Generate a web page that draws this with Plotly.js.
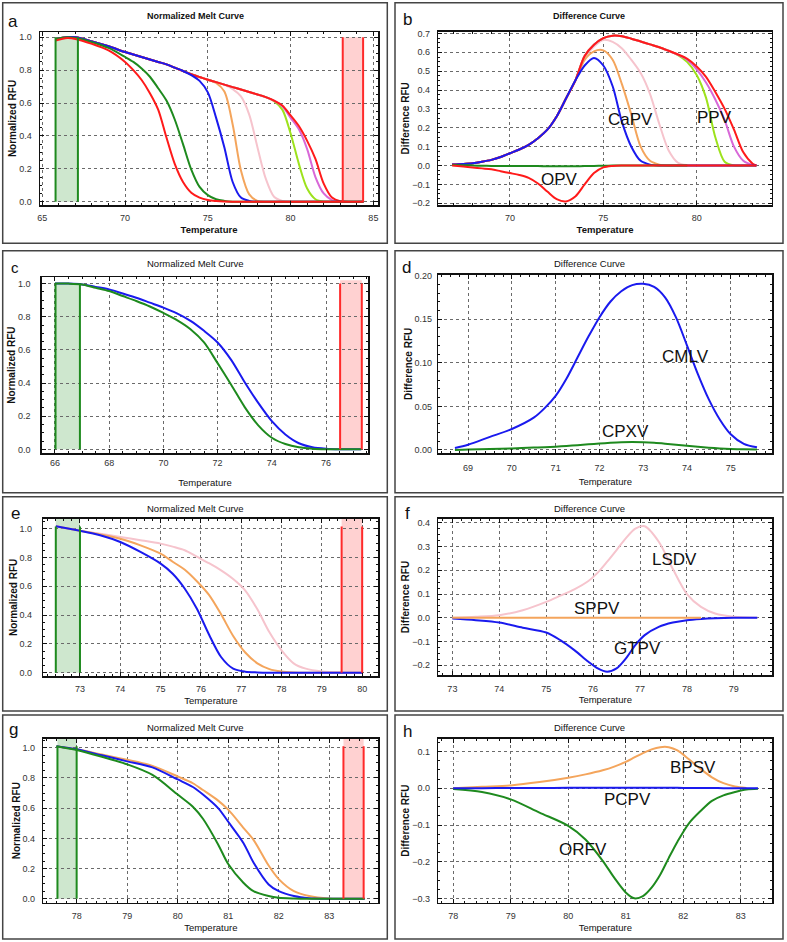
<!DOCTYPE html>
<html>
<head>
<meta charset="utf-8">
<script src="https://cdn.plot.ly/plotly-3.0.1.min.js"></script>
<style>
  html, body { margin: 0; padding: 0; background: #fff; }
  #chart { width: 787px; height: 942px; }
</style>
</head>
<body>
<div id="chart"></div>
<script>
// ---- panel a : normalized melt curve (OPV / CaPV / PPV panel) ----
const aTemp = [65.8, 66.5, 67, 68, 69, 70, 70.5, 71, 71.5, 72, 72.5, 73, 73.5, 74, 74.5, 75, 75.5, 76, 76.5, 77, 77.5, 78, 78.5, 79, 79.5, 80, 80.5, 81, 81.5, 82, 82.5, 83, 84.4];
const aOPV = [0.98, 0.995, 0.99, 0.96, 0.92, 0.85, 0.80, 0.74, 0.66, 0.56, 0.39, 0.23, 0.12, 0.055, 0.025, 0.01, 0.004, 0.001, 0, 0, 0, 0, 0, 0, 0, 0, 0, 0, 0, 0, 0, 0, 0];
const aGreen = [0.99, 1.0, 0.995, 0.97, 0.935, 0.88, 0.85, 0.81, 0.76, 0.69, 0.615, 0.5, 0.35, 0.195, 0.09, 0.04, 0.015, 0.005, 0, 0, 0, 0, 0, 0, 0, 0, 0, 0, 0, 0, 0, 0, 0];
const aBlue = [0.99, 1.0, 1.0, 0.975, 0.945, 0.91, 0.895, 0.88, 0.865, 0.85, 0.835, 0.815, 0.795, 0.77, 0.735, 0.665, 0.51, 0.33, 0.12, 0.025, 0.005, 0, 0, 0, 0, 0, 0, 0, 0, 0, 0, 0, 0];
const aOrange = [0.99, 1.0, 1.0, 0.975, 0.945, 0.91, 0.895, 0.88, 0.865, 0.85, 0.835, 0.815, 0.795, 0.775, 0.758, 0.742, 0.722, 0.67, 0.47, 0.19, 0.045, 0.005, 0, 0, 0, 0, 0, 0, 0, 0, 0, 0, 0];
const aPink = [0.99, 1.0, 1.0, 0.975, 0.945, 0.91, 0.895, 0.88, 0.865, 0.85, 0.835, 0.815, 0.795, 0.775, 0.758, 0.742, 0.727, 0.71, 0.685, 0.64, 0.53, 0.33, 0.14, 0.03, 0.005, 0, 0, 0, 0, 0, 0, 0, 0];
const aLime = [0.99, 1.0, 1.0, 0.975, 0.945, 0.91, 0.895, 0.88, 0.865, 0.85, 0.835, 0.815, 0.795, 0.775, 0.758, 0.742, 0.727, 0.712, 0.697, 0.682, 0.667, 0.652, 0.636, 0.612, 0.56, 0.415, 0.23, 0.08, 0.015, 0, 0, 0, 0];
const aViolet = [0.99, 1.0, 1.0, 0.975, 0.945, 0.91, 0.895, 0.88, 0.865, 0.85, 0.835, 0.815, 0.795, 0.775, 0.758, 0.742, 0.727, 0.712, 0.697, 0.682, 0.667, 0.652, 0.636, 0.614, 0.58, 0.51, 0.44, 0.32, 0.15, 0.05, 0.01, 0, 0];
const aRed = [0.99, 1.0, 1.0, 0.975, 0.945, 0.91, 0.895, 0.88, 0.865, 0.85, 0.835, 0.815, 0.795, 0.775, 0.758, 0.742, 0.727, 0.712, 0.697, 0.682, 0.667, 0.652, 0.636, 0.615, 0.585, 0.525, 0.46, 0.37, 0.26, 0.11, 0.025, 0.003, 0];
const aGreenBand = [65.8, 67.15];
const aRedBand = [83.15, 84.38];

// ---- panel b : difference curve ----
const bTemp = [66.9, 67.5, 68, 68.5, 69, 69.5, 70, 70.5, 71, 71.5, 72, 72.5, 73, 73.5, 74, 74.5, 75, 75.5, 76, 76.5, 77, 77.5, 78, 78.5, 79, 79.5, 80, 80.5, 81, 81.5, 82, 82.5, 83, 83.2];
const bBlue = [0.005, 0.008, 0.012, 0.02, 0.03, 0.045, 0.065, 0.085, 0.11, 0.145, 0.19, 0.26, 0.355, 0.45, 0.53, 0.57, 0.53, 0.42, 0.23, 0.1, 0.025, 0.005, 0, 0, 0, 0, 0, 0, 0, 0, 0, 0, 0, 0];
const bOrange = [0.005, 0.008, 0.012, 0.02, 0.03, 0.045, 0.065, 0.085, 0.11, 0.145, 0.19, 0.26, 0.355, 0.45, 0.56, 0.605, 0.61, 0.56, 0.43, 0.27, 0.1, 0.025, 0.005, 0, 0, 0, 0, 0, 0, 0, 0, 0, 0, 0];
const bPink = [0.005, 0.008, 0.012, 0.02, 0.03, 0.045, 0.065, 0.085, 0.11, 0.145, 0.19, 0.26, 0.355, 0.45, 0.57, 0.63, 0.665, 0.655, 0.62, 0.56, 0.49, 0.38, 0.22, 0.08, 0.015, 0.002, 0, 0, 0, 0, 0, 0, 0, 0];
const bLime = [0.005, 0.008, 0.012, 0.02, 0.03, 0.045, 0.065, 0.085, 0.11, 0.145, 0.19, 0.26, 0.355, 0.45, 0.58, 0.64, 0.675, 0.688, 0.685, 0.672, 0.657, 0.642, 0.627, 0.608, 0.585, 0.548, 0.48, 0.36, 0.15, 0.02, 0, 0, 0, 0];
const bViolet = [0.005, 0.008, 0.012, 0.02, 0.03, 0.045, 0.065, 0.085, 0.11, 0.145, 0.19, 0.26, 0.355, 0.45, 0.58, 0.64, 0.675, 0.688, 0.685, 0.672, 0.657, 0.642, 0.627, 0.608, 0.587, 0.56, 0.51, 0.44, 0.35, 0.24, 0.1, 0.025, 0.003, 0];
const bRed = [0.005, 0.008, 0.012, 0.02, 0.03, 0.045, 0.065, 0.085, 0.11, 0.145, 0.19, 0.26, 0.355, 0.45, 0.58, 0.64, 0.675, 0.688, 0.685, 0.672, 0.657, 0.642, 0.627, 0.608, 0.588, 0.565, 0.525, 0.47, 0.39, 0.3, 0.19, 0.07, 0.01, 0];
const bGreen = [0.003, 0.002, 0, -0.001, -0.002, -0.002, -0.002, -0.002, -0.003, -0.003, -0.004, -0.004, -0.004, -0.004, -0.003, -0.002, -0.001, 0, 0, 0, 0, 0, 0, 0, 0, 0, null, null, null, null, null, null, null, null];
const bOPV = [0, -0.005, -0.01, -0.015, -0.02, -0.03, -0.04, -0.05, -0.065, -0.095, -0.138, -0.178, -0.19, -0.164, -0.1, -0.04, -0.01, -0.002, 0, 0, 0, 0, 0, 0, 0, 0, 0, 0, 0, 0, 0, 0, 0, 0];

// ---- panel c : normalized melt curve (CMLV / CPXV) ----
const cTemp = [66, 66.5, 67, 67.5, 68, 68.5, 69, 69.5, 70, 70.5, 71, 71.5, 72, 72.5, 73, 73.5, 74, 74.5, 75, 75.5, 76, 76.5, 77.3];
const cBlue = [1.0, 1.0, 0.995, 0.98, 0.965, 0.94, 0.915, 0.885, 0.855, 0.82, 0.775, 0.715, 0.645, 0.54, 0.405, 0.28, 0.17, 0.09, 0.037, 0.013, 0.004, 0.001, 0];
const cGreen = [1.0, 1.0, 0.995, 0.975, 0.955, 0.925, 0.895, 0.862, 0.823, 0.78, 0.725, 0.645, 0.52, 0.39, 0.255, 0.145, 0.07, 0.032, 0.012, 0.004, 0.001, 0, 0];
const cGreenBand = [66.02, 66.92];
const cRedBand = [76.52, 77.32];

// ---- panel d : difference curve ----
const dTemp = [68.7, 69, 69.5, 70, 70.5, 70.75, 71, 71.25, 71.5, 71.75, 72, 72.25, 72.5, 72.75, 73, 73.25, 73.5, 73.75, 74, 74.25, 74.5, 74.75, 75, 75.3, 75.6];
const dCMLV = [0.0023, 0.006, 0.015, 0.024, 0.037, 0.048, 0.062, 0.082, 0.106, 0.13, 0.152, 0.17, 0.182, 0.189, 0.1905, 0.187, 0.175, 0.152, 0.12, 0.087, 0.058, 0.035, 0.018, 0.007, 0.003];
const dCPXV = [0, 0.0005, 0.001, 0.0018, 0.0027, 0.0032, 0.0038, 0.0046, 0.0055, 0.0064, 0.0074, 0.0082, 0.0088, 0.009, 0.0088, 0.0082, 0.0072, 0.006, 0.0048, 0.0036, 0.0026, 0.0018, 0.0012, 0.0007, 0.0004];

// ---- panel e : normalized melt curve (capripox) ----
const eTemp = [72.4, 73, 73.5, 74, 74.5, 75, 75.3, 75.6, 75.9, 76.2, 76.5, 76.8, 77.1, 77.4, 77.7, 78, 78.3, 78.6, 79, 79.5, 80];
const eBlue = [1.016, 0.985, 0.954, 0.907, 0.838, 0.757, 0.687, 0.583, 0.444, 0.265, 0.109, 0.028, 0.007, 0.002, 0, 0, 0, 0, 0, 0, 0];
const eOrange = [1.016, 0.985, 0.96, 0.93, 0.884, 0.826, 0.77, 0.715, 0.635, 0.54, 0.405, 0.255, 0.14, 0.065, 0.025, 0.008, 0.002, 0, 0, 0, 0];
const ePink = [1.016, 0.985, 0.965, 0.942, 0.92, 0.896, 0.875, 0.85, 0.805, 0.76, 0.71, 0.65, 0.57, 0.44, 0.28, 0.155, 0.065, 0.028, 0.009, 0.002, 0];
const eGreenBand = [72.4, 73.0];
const eRedBand = [79.49, 80.0];

// ---- panel f : difference curve ----
const fTemp = [73, 73.5, 74, 74.5, 75, 75.3, 75.6, 75.9, 76.1, 76.3, 76.5, 76.7, 76.9, 77.1, 77.4, 77.7, 78, 78.3, 78.6, 79, 79.5];
const fLSDV = [0, 0.004, 0.011, 0.032, 0.067, 0.093, 0.12, 0.155, 0.19, 0.236, 0.285, 0.335, 0.375, 0.385, 0.32, 0.205, 0.1, 0.046, 0.018, 0.004, 0];
const fSPPV = [0, 0, 0, 0, 0, 0, 0, 0, 0, 0, 0, 0, 0, 0, 0, 0, 0, 0, null, null, null];
const fGTPV = [-0.003, -0.01, -0.02, -0.042, -0.062, -0.094, -0.136, -0.185, -0.213, -0.227, -0.213, -0.171, -0.115, -0.073, -0.038, -0.02, -0.01, -0.005, -0.002, 0, 0];

// ---- panel g : normalized melt curve (parapox) ----
const gTemp = [77.6, 78, 78.5, 79, 79.5, 80, 80.3, 80.5, 80.8, 81, 81.3, 81.5, 81.8, 82, 82.3, 82.6, 83, 83.7];
const gGreen = [1.01, 0.985, 0.94, 0.89, 0.82, 0.69, 0.61, 0.53, 0.36, 0.23, 0.106, 0.05, 0.018, 0.007, 0.002, 0, 0, 0];
const gBlue = [1.01, 0.99, 0.95, 0.91, 0.87, 0.79, 0.74, 0.69, 0.6, 0.51, 0.37, 0.24, 0.095, 0.05, 0.018, 0.004, 0, 0];
const gOrange = [1.01, 0.99, 0.955, 0.92, 0.88, 0.81, 0.765, 0.72, 0.65, 0.59, 0.47, 0.39, 0.22, 0.13, 0.05, 0.018, 0.002, 0];
const gGreenBand = [77.62, 78.0];
const gRedBand = [83.28, 83.68];

// ---- panel h : difference curve ----
const hTemp = [78, 78.5, 79, 79.5, 80, 80.3, 80.6, 80.8, 81, 81.15, 81.3, 81.45, 81.6, 81.75, 81.9, 82.1, 82.3, 82.5, 82.7, 82.9, 83.1, 83.3];
const hBPSV = [0, 0.004, 0.008, 0.017, 0.029, 0.038, 0.049, 0.059, 0.072, 0.084, 0.096, 0.106, 0.112, 0.112, 0.103, 0.079, 0.053, 0.03, 0.014, 0.005, 0.001, null];
const hPCPV = [0, 0.0005, 0.001, 0.001, 0.0015, 0.0015, 0.0015, 0.0015, 0.0015, 0.0015, 0.0015, 0.0015, 0.0015, 0.0015, 0.0015, 0.001, 0.001, 0.001, 0.0005, 0.0005, 0, 0];
const hORFV = [-0.002, -0.01, -0.03, -0.066, -0.102, -0.139, -0.197, -0.243, -0.283, -0.299, -0.293, -0.27, -0.235, -0.189, -0.145, -0.095, -0.062, -0.034, -0.019, -0.01, -0.003, -0.001];

const W = 787, H = 942;
const FONT = 'Arial, "Liberation Sans", sans-serif';
const RED = '#ff1a1a', GREEN = '#1e8a1e', BLUE = '#1a1aee', ORANGE = '#f4a55c',
      PINK = '#f6c4cd', LIME = '#9de21c', VIOLET = '#d868d8';

const px = (x) => x / W;
const py = (y) => 1 - y / H;

function curve(n, x, y, color) {
  return {
    x: x, y: y, type: 'scatter', mode: 'lines',
    line: { color: color, width: 2, shape: 'spline', smoothing: 0.85 },
    xaxis: n === 1 ? 'x' : 'x' + n, yaxis: n === 1 ? 'y' : 'y' + n,
    showlegend: false, hoverinfo: 'skip', connectgaps: false
  };
}

const traces = [
  curve(1, aTemp, aPink, PINK), curve(1, aTemp, aOrange, ORANGE), curve(1, aTemp, aLime, LIME),
  curve(1, aTemp, aViolet, VIOLET), curve(1, aTemp, aRed, RED), curve(1, aTemp, aBlue, BLUE),
  curve(1, aTemp, aGreen, GREEN), curve(1, aTemp, aOPV, RED),

  curve(2, bTemp, bPink, PINK), curve(2, bTemp, bOrange, ORANGE), curve(2, bTemp, bLime, LIME),
  curve(2, bTemp, bViolet, VIOLET), curve(2, bTemp, bRed, RED), curve(2, bTemp, bBlue, BLUE),
  curve(2, bTemp, bGreen, GREEN), curve(2, bTemp, bOPV, RED),

  curve(3, cTemp, cBlue, BLUE), curve(3, cTemp, cGreen, GREEN),

  curve(4, dTemp, dCMLV, BLUE), curve(4, dTemp, dCPXV, GREEN),

  curve(5, eTemp, ePink, PINK), curve(5, eTemp, eOrange, ORANGE), curve(5, eTemp, eBlue, BLUE),

  curve(6, fTemp, fLSDV, PINK), curve(6, fTemp, fGTPV, BLUE), curve(6, fTemp, fSPPV, ORANGE),

  curve(7, gTemp, gOrange, ORANGE), curve(7, gTemp, gBlue, BLUE), curve(7, gTemp, gGreen, GREEN),

  curve(8, hTemp, hBPSV, ORANGE), curve(8, hTemp, hORFV, GREEN), curve(8, hTemp, hPCPV, BLUE)
];

const layout = {
  width: W, height: H,
  margin: { l: 0, r: 0, t: 0, b: 0 },
  paper_bgcolor: '#fff', plot_bgcolor: '#fff',
  font: { family: FONT, color: '#222' },
  showlegend: false,
  shapes: [], annotations: []
};

// one subplot: frame in pixels [left, right, top, bottom]
function panel(n, frame, xr, xd, xm, yr, yd, ym, yfmt, yTitle, opt) {
  const xk = n === 1 ? 'xaxis' : 'xaxis' + n;
  const yk = n === 1 ? 'yaxis' : 'yaxis' + n;
  const common = {
    autorange: false, fixedrange: true,
    showgrid: true, gridcolor: '#6a6a6a', griddash: 'dot', gridwidth: 1,
    zeroline: false, showline: true, linecolor: '#111', linewidth: 1.5, mirror: 'allticks',
    ticks: 'inside', ticklen: 4, tickwidth: 1, tickcolor: '#111',
    tickfont: { family: FONT, size: 9, color: '#333' }
  };
  layout[xk] = Object.assign({}, common, {
    domain: [px(frame[0]), px(frame[1])], range: xr,
    anchor: n === 1 ? 'y' : 'y' + n,
    tick0: 0, dtick: xd,
    minor: { dtick: xm, ticks: 'inside', ticklen: 2, tickcolor: '#111', showgrid: false },
    ticklabelstandoff: opt.xls,
    title: { text: 'Temperature', standoff: opt.xts,
             font: { family: FONT, size: 9.5, color: '#111', weight: opt.bold ? 'bold' : 'normal' } }
  });
  layout[yk] = Object.assign({}, common, {
    domain: [py(frame[3]), py(frame[2])], range: yr,
    anchor: n === 1 ? 'x' : 'x' + n,
    tick0: 0, dtick: yd, tickformat: yfmt,
    minor: { dtick: ym, ticks: 'inside', ticklen: 2, tickcolor: '#111', showgrid: false },
    ticklabelstandoff: opt.yls,
    title: { text: yTitle, standoff: opt.yts,
             font: { family: FONT, size: 10, color: '#111', weight: 'bold' } }
  });
}

panel(1, [40, 378, 32, 205], [64.86, 85.28], 5, 1, [-0.02, 1.032], 0.2, 0.05, '.1f', 'Normalized RFU',
      { xls: 4, xts: 4, yls: 5, yts: 0, bold: true });
panel(2, [438.3, 771.7, 31.7, 205], [66.16, 84.02], 5, 1, [-0.209, 0.709], 0.1, 0.025, '.1f', 'Difference RFU',
      { xls: 4, xts: 4, yls: 5, yts: 0, bold: true });
panel(3, [41.7, 368.3, 277.3, 453], [65.51, 77.56], 2, 0.5, [-0.022, 1.038], 0.2, 0.05, '.1f', 'Normalized RFU',
      { xls: 1, xts: 12, yls: 8, yts: 0, bold: false });
panel(4, [438.3, 772.3, 274.7, 453], [68.32, 75.95], 1, 0.2, [-0.0035, 0.201], 0.05, 0.01, '.2f', 'Difference RFU',
      { xls: 6, xts: 6, yls: 3, yts: 0, bold: false });
panel(5, [43.3, 378.3, 518.7, 676], [72.09, 80.40], 1, 0.2, [-0.023, 1.069], 0.2, 0.05, '.1f', 'Normalized RFU',
      { xls: 4, xts: 4, yls: 8, yts: 0, bold: false });
panel(6, [438.3, 772.3, 518.7, 675.3], [72.70, 79.82], 1, 0.2, [-0.242, 0.417], 0.1, 0.025, '.1f', 'Difference RFU',
      { xls: 4, xts: 4, yls: 5, yts: 0, bold: false });
panel(7, [43.3, 378.3, 738.7, 902.7], [77.34, 83.97], 1, 0.2, [-0.026, 1.06], 0.2, 0.05, '.1f', 'Normalized RFU',
      { xls: 4, xts: 4, yls: 5, yts: 0, bold: false });
panel(8, [438.3, 772.3, 738.7, 902.7], [77.74, 83.55], 1, 0.2, [-0.311, 0.135], 0.1, 0.025, '.1f', 'Difference RFU',
      { xls: 4, xts: 4, yls: 5, yts: 0, bold: false });

// melt region bands (start = green, end = red)
function band(n, edges, fillTop, lineTop, fill, stroke) {
  const xr = n === 1 ? 'x' : 'x' + n, yr = n === 1 ? 'y' : 'y' + n;
  layout.shapes.push({ type: 'rect', xref: xr, yref: yr, x0: edges[0], x1: edges[1], y0: 0, y1: fillTop,
                       fillcolor: fill, line: { width: 0 }, layer: 'below' });
  edges.forEach(e => layout.shapes.push({ type: 'line', xref: xr, yref: yr, x0: e, x1: e, y0: 0, y1: lineTop,
                                          line: { color: stroke, width: 2 } }));
}
const GFILL = 'rgba(60,160,60,0.25)', RFILL = 'rgba(255,90,90,0.28)';
band(1, aGreenBand, 1.0, 1.0, GFILL, GREEN);
band(1, aRedBand, 1.0, 1.0, RFILL, '#ff2a2a');
band(3, cGreenBand, 1.0, 1.0, GFILL, GREEN);
band(3, cRedBand, 1.02, 1.0, RFILL, '#ff2a2a');
band(5, eGreenBand, 1.069, 1.015, GFILL, GREEN);
band(5, eRedBand, 1.069, 1.015, RFILL, '#ff2a2a');
band(7, gGreenBand, 1.06, 1.01, GFILL, GREEN);
band(7, gRedBand, 1.06, 1.01, RFILL, '#ff2a2a');

// panel boxes
const rows = [[2.7, 243.3], [250.7, 492.7], [496.7, 711], [715, 939]];
const cols = [[2.7, 387.3], [395, 783]];
rows.forEach(r => cols.forEach(c => layout.shapes.push({
  type: 'rect', xref: 'paper', yref: 'paper', x0: px(c[0]), x1: px(c[1]), y0: py(r[1]), y1: py(r[0]),
  line: { color: '#444', width: 1.5 }, fillcolor: 'rgba(0,0,0,0)'
})));

function note(text, x, y, size, weight) {
  layout.annotations.push({ text: text, xref: 'paper', yref: 'paper', x: px(x), y: py(y),
    xanchor: 'center', yanchor: 'middle', showarrow: false,
    font: { family: FONT, size: size, color: '#111', weight: weight || 'normal' } });
}

// panel titles
note('Normalized Melt Curve', 195, 15.7, 9, 'bold');
note('Difference Curve', 589, 15.7, 9, 'bold');
note('Normalized Melt Curve', 195, 264, 9.5);
note('Difference Curve', 589, 264, 9.5);
note('Normalized Melt Curve', 195, 508.7, 9.5);
note('Difference Curve', 589, 508, 9.5);
note('Normalized Melt Curve', 195, 727, 9.5);
note('Difference Curve', 589, 727.7, 9.5);

// panel letters
note('a', 13, 22, 17); note('b', 407, 20, 17);
note('c', 15, 268, 15); note('d', 406, 267, 17);
note('e', 15, 513.7, 17); note('f', 407, 513.7, 17);
note('g', 13, 729, 17); note('h', 407, 731, 17);

// virus labels
note('CaPV', 630.7, 120, 17); note('PPV', 714, 118, 17); note('OPV', 559, 180, 17);
note('CMLV', 685.7, 356.3, 17); note('CPXV', 625.7, 431.3, 17);
note('LSDV', 674, 559.3, 17); note('SPPV', 597.3, 608.7, 17); note('GTPV', 637.3, 648.7, 17);
note('BPSV', 693, 767, 17); note('PCPV', 627.3, 799.3, 17); note('ORFV', 583.3, 849.3, 17);

Plotly.newPlot('chart', traces, layout, { staticPlot: true, displayModeBar: false });
</script>
</body>
</html>
